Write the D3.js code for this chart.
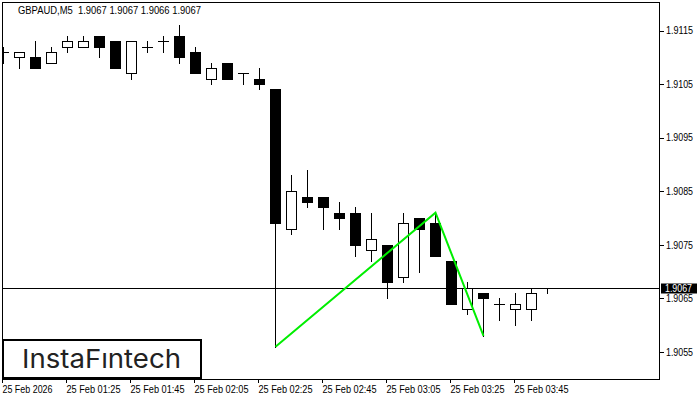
<!DOCTYPE html>
<html>
<head>
<meta charset="utf-8">
<script src="https://cdn.jsdelivr.net/npm/d3@7"></script>
<style>
  html, body { margin: 0; padding: 0; background: #fff; }
  svg { display: block; }
  text { font-family: "Liberation Sans", Arial, sans-serif; }
</style>
</head>
<body>
<svg id="chart" width="700" height="400"></svg>
<script>
// ---- data ----
const symbol = "GBPAUD,M5";
const headerValues = ["1.9067", "1.9067", "1.9066", "1.9067"];
const times = ["01:05","01:10","01:15","01:20","01:25","01:30","01:35","01:40","01:45","01:50",
               "01:55","02:00","02:05","02:10","02:15","02:20","02:25","02:30","02:35","02:40",
               "02:45","02:50","02:55","03:00","03:05","03:10","03:15","03:20","03:25","03:30",
               "03:35","03:40","03:45","03:50","03:55"];
const open  = [1.9111,1.9110,1.9110,1.9109,1.9112,1.9112,1.9114,1.9113,1.9107,1.9112,
               1.9113,1.9114,1.9111,1.9106,1.9109,1.9107,1.9106,1.9104,1.9078,1.9084,
               1.9084,1.9081,1.9081,1.9074,1.9075,1.9069,1.9080,1.9079,1.9072,1.9063,
               1.9066,1.9064,1.9063,1.9063,1.9067];
const high  = [1.9112,1.9111,1.9113,1.9112,1.9114,1.9114,1.9114,1.9113,1.9113,1.9113,
               1.9114,1.9116,1.9112,1.9109,1.9109,1.9107,1.9108,1.9104,1.9088,1.9089,
               1.9084,1.9083,1.9082,1.9081,1.9075,1.9081,1.9080,1.9081,1.9072,1.9068,
               1.9066,1.9065,1.9066,1.9067,1.9067];
const low   = [1.9109,1.9108,1.9108,1.9109,1.9111,1.9112,1.9110,1.9108,1.9106,1.9111,
               1.9111,1.9109,1.9107,1.9105,1.9106,1.9105,1.9104,1.9056,1.9077,1.9082,
               1.9078,1.9078,1.9073,1.9072,1.9065,1.9068,1.9070,1.9073,1.9064,1.9062,
               1.9058,1.9061,1.9060,1.9061,1.9066];
const close = [1.9111,1.9111,1.9108,1.9111,1.9113,1.9113,1.9112,1.9108,1.9113,1.9112,
               1.9113,1.9110,1.9107,1.9108,1.9106,1.9107,1.9105,1.9079,1.9085,1.9083,
               1.9082,1.9080,1.9075,1.9076,1.9068,1.9079,1.9078,1.9073,1.9064,1.9067,
               1.9065,1.9064,1.9064,1.9066,1.9067];
const patternTimes  = ["02:30", "03:20", "03:35"];
const patternPrices = [1.9056, 1.9081, 1.9058];
const currentPrice = 1.9067;
const yTicks = [1.9055, 1.9065, 1.9075, 1.9085, 1.9095, 1.9105, 1.9115];
const xTickTimes  = ["01:05","01:25","01:45","02:05","02:25","02:45","03:05","03:25","03:45"];
const xTickLabels = ["25 Feb 2026","25 Feb 01:25","25 Feb 01:45","25 Feb 02:05","25 Feb 02:25",
                     "25 Feb 02:45","25 Feb 03:05","25 Feb 03:25","25 Feb 03:45"];
const logoText = "InstaF\u0131ntech";

// ---- layout ----
const svg = d3.select("#chart");
const plot = { left: 3, top: 3, right: 659, bottom: 379 };
const parseT = t => { const [h, m] = t.split(":").map(Number); return new Date(2026, 1, 25, h, m); };
const candles = times.map((t, i) => ({ t: parseT(t), o: open[i], h: high[i], l: low[i], c: close[i] }));

const x = d3.scaleTime()
  .domain([parseT(times[0]), parseT(times[times.length - 1])])
  .range([3, 547]);
const y = d3.scaleLinear().domain([1.9055, 1.9115]).range([352, 30.5]);
const py = v => Math.round(y(v)) + 0.5;
const cx = d => Math.round(x(d)) + 0.5;
const fitText = (sel, w) => sel.each(function () {
  const len = this.getComputedTextLength();
  if (len > 0) d3.select(this).attr("textLength", w).attr("lengthAdjust", "spacingAndGlyphs");
});

svg.append("rect").attr("width", 700).attr("height", 400).attr("fill", "#fff");

svg.append("defs").append("clipPath").attr("id", "clip")
  .append("rect").attr("x", plot.left).attr("y", plot.top)
  .attr("width", plot.right - plot.left).attr("height", plot.bottom - plot.top);

const g = svg.append("g").attr("clip-path", "url(#clip)");

// current price line
g.append("line")
  .attr("x1", plot.left).attr("x2", plot.right)
  .attr("y1", py(currentPrice)).attr("y2", py(currentPrice))
  .attr("stroke", "#000").attr("stroke-width", 1);

// candles
const cg = g.append("g").attr("shape-rendering", "crispEdges");
candles.forEach(d => {
  const c = cx(d.t);
  cg.append("line").attr("x1", c).attr("x2", c)
    .attr("y1", py(d.h) - 0.5).attr("y2", py(d.l) + 0.5)
    .attr("stroke", "#000").attr("stroke-width", 1);
  const yo = py(d.o), yc = py(d.c);
  if (d.c > d.o) {
    cg.append("rect").attr("x", c - 5).attr("y", yc).attr("width", 10).attr("height", yo - yc)
      .attr("fill", "#fff").attr("stroke", "#000").attr("stroke-width", 1);
  } else if (d.c < d.o) {
    cg.append("rect").attr("x", c - 5.5).attr("y", yo - 0.5).attr("width", 11).attr("height", yc - yo + 1)
      .attr("fill", "#000");
  } else {
    cg.append("line").attr("x1", c - 5.5).attr("x2", c + 5.5)
      .attr("y1", yo).attr("y2", yo).attr("stroke", "#000").attr("stroke-width", 1);
  }
});

// pattern line
const line = d3.line().x(d => cx(parseT(d[0]))).y(d => y(d[1]));
g.append("path")
  .datum(patternTimes.map((t, i) => [t, patternPrices[i]]))
  .attr("d", line)
  .attr("fill", "none").attr("stroke", "#00ee00").attr("stroke-width", 2)
  .attr("stroke-linejoin", "miter");

// frame
svg.append("rect").attr("x", 2.5).attr("y", 2.5).attr("width", 657).attr("height", 377)
  .attr("fill", "none").attr("stroke", "#000").attr("stroke-width", 1)
  .attr("shape-rendering", "crispEdges");

// y axis
const yAxis = d3.axisRight(y).tickValues(yTicks).tickSize(4).tickPadding(2)
  .tickFormat(d3.format(".4f"));
const ya = svg.append("g").attr("transform", "translate(660,0)").call(yAxis);
ya.select(".domain").remove();
ya.selectAll(".tick line").attr("stroke", "#000").attr("shape-rendering", "crispEdges");
ya.selectAll(".tick text").attr("fill", "#000").style("font-size", "10px")
  .style("font-family", "'Liberation Sans', Arial, sans-serif")
  .call(fitText, 27);

// current price label
const cp = py(currentPrice);
svg.append("rect").attr("x", 661).attr("y", cp - 5).attr("width", 36).attr("height", 10).attr("fill", "#000");
svg.append("text").attr("x", 665).attr("y", cp + 3.8).attr("fill", "#fff")
  .style("font-size", "10px").text(d3.format(".4f")(currentPrice))
  .call(fitText, 27);

// x axis
const xAxis = d3.axisBottom(x).tickValues(xTickTimes.map(parseT)).tickSize(4).tickPadding(3)
  .tickFormat((d, i) => xTickLabels[i]);
const xa = svg.append("g").attr("transform", "translate(0,379)").call(xAxis);
xa.select(".domain").remove();
xa.selectAll(".tick").attr("transform", d => `translate(${Math.round(x(d)) - 0.5},0)`);
xa.selectAll(".tick line").attr("stroke", "#000").attr("shape-rendering", "crispEdges");
xa.selectAll(".tick text").attr("fill", "#000").attr("text-anchor", "start").attr("x", 0)
  .style("font-size", "10px").style("font-family", "'Liberation Sans', Arial, sans-serif")
  .each(function (d, i) { fitText(d3.select(this), i === 0 ? 50 : 54); });

// header
svg.append("text").attr("x", 18).attr("y", 14).attr("fill", "#000")
  .style("font-size", "10px").style("white-space", "pre")
  .text(symbol + "  " + headerValues.join(" "))
  .call(fitText, 183);

// logo
svg.append("rect").attr("x", 3).attr("y", 340).attr("width", 198).attr("height", 38)
  .attr("fill", "#fff").attr("stroke", "#000").attr("stroke-width", 2);
svg.append("text").attr("x", 22).attr("y", 368).attr("fill", "#222")
  .style("font-family", "Inter, 'Noto Sans', sans-serif").style("font-weight", 400)
  .style("font-size", "26px").attr("textLength", 159).attr("lengthAdjust", "spacingAndGlyphs")
  .text(logoText);
</script>
</body>
</html>
